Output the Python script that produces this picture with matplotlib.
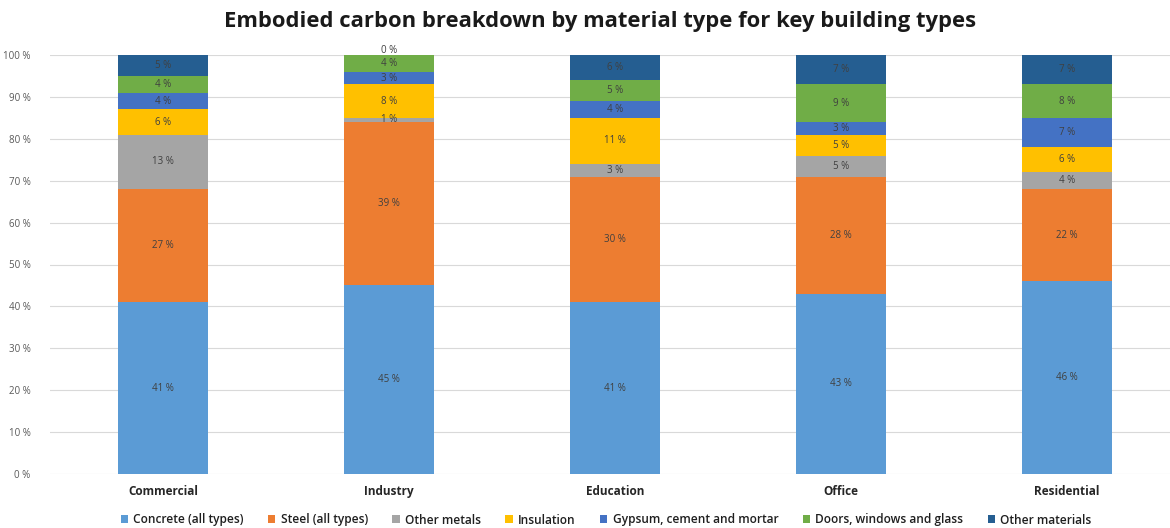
import matplotlib
matplotlib.use("Agg")
import matplotlib.pyplot as plt
from matplotlib.ticker import FuncFormatter
import numpy as np

categories = ["Commercial", "Industry", "Education", "Office", "Residential"]
materials = ["Concrete (all types)", "Steel (all types)", "Other metals", "Insulation",
             "Gypsum, cement and mortar", "Doors, windows and glass", "Other materials"]
concrete = [41, 45, 41, 43, 46]
steel = [27, 39, 30, 28, 22]
other_metals = [13, 1, 3, 5, 4]
insulation = [6, 8, 11, 5, 6]
gypsum = [4, 3, 4, 3, 7]
doors = [4, 4, 5, 9, 8]
other_materials = [5, 0, 6, 7, 7]
series = [concrete, steel, other_metals, insulation, gypsum, doors, other_materials]
colors = ["#5B9BD5", "#ED7D31", "#A5A5A5", "#FFC000", "#4472C4", "#70AD47", "#255E91"]
yticks = list(range(0, 101, 10))

plt.rcParams['font.family'] = ['Open Sans', 'DejaVu Sans']

fig = plt.figure(figsize=(11.7, 5.28), dpi=100)
ax = fig.add_axes([50 / 1170, 1 - 474 / 528, 1 - 50 / 1170, (474 - 55) / 528])

x = np.arange(len(categories))
bottom = np.zeros(len(categories))
for name, vals, col in zip(materials, series, colors):
    vals = np.array(vals, dtype=float)
    ax.bar(x, vals, width=0.4, bottom=bottom, color=col, label=name, zorder=2)
    for xi, b, v in zip(x, bottom, vals):
        ypos = b + v / 2
        if v == 0:
            ypos = b + 1.0  # zero-height segment: keep its label just above the top
        ax.text(xi, ypos, f"{int(v)} %", ha="center", va="center",
                fontsize=7, color="#404040", zorder=3)
    bottom += vals

ax.set_xlim(-0.5, (1170 - 163) / 226)
ax.set_ylim(0, 100)
ax.set_yticks(yticks)
ax.yaxis.set_major_formatter(FuncFormatter(lambda v, p: f"{int(v)} %"))
ax.tick_params(axis="y", length=0, labelsize=7, labelcolor="#595959", pad=14)
ax.set_xticks(x)
ax.set_xticklabels(categories, fontsize=8.5, fontweight="bold", color="#262626")
ax.tick_params(axis="x", length=0, pad=8)
ax.grid(axis="y", color="#D9D9D9", linewidth=0.8, zorder=0)
for s in ax.spines.values():
    s.set_visible(False)

fig.text(0.513, 1 - 22 / 528, "Embodied carbon breakdown by material type for key building types",
         ha="center", va="center", fontsize=15.8, fontweight="bold", color="#1a1a1a")

fig.legend(*ax.get_legend_handles_labels(), loc="center", bbox_to_anchor=(0.518, 1 - 520 / 528),
           ncol=7, frameon=False, handlelength=0.6, handleheight=0.6,
           handletextpad=0.45, columnspacing=2.05, labelcolor="#1f1f1f",
           prop={'weight': 'semibold', 'size': 8.6})

fig.savefig("out.png", dpi=100)
